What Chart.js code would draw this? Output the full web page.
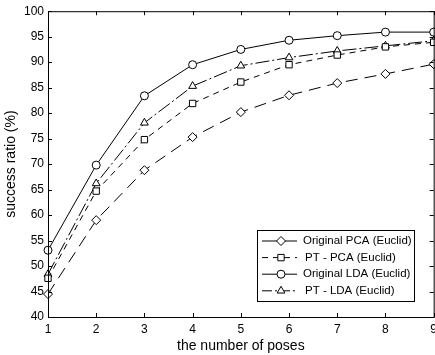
<!DOCTYPE html>
<html>
<head>
<meta charset="utf-8">
<script src="https://cdn.jsdelivr.net/npm/chart.js@4/dist/chart.umd.min.js"></script>
<style>
  html, body { margin: 0; padding: 0; background: #fff; overflow: hidden; }
  #wrap { width: 442px; height: 355px; }
</style>
</head>
<body>
<div id="wrap"><canvas id="myChart" width="442" height="355"></canvas></div>
<script>
const poses = [1, 2, 3, 4, 5, 6, 7, 8, 9];
const origPCA = [44.5, 59.0, 68.8, 75.3, 80.2, 83.5, 85.9, 87.7, 89.6];
const ptPCA = [47.6, 64.7, 74.8, 81.9, 86.1, 89.5, 91.4, 93.0, 93.9];
const origLDA = [53.1, 69.8, 83.4, 89.5, 92.5, 94.3, 95.2, 95.9, 95.9];
const ptLDA = [48.4, 66.2, 78.1, 85.3, 89.3, 90.9, 92.2, 93.2, 94.2];
const yTicks = [40, 45, 50, 55, 60, 65, 70, 75, 80, 85, 90, 95, 100];

const font = 'Liberation Sans, Arial, sans-serif';

function series(label, values, marker, dash) {
  return {
    label: label,
    data: poses.map((p, i) => ({ x: p, y: values[i] })),
    borderColor: '#000',
    borderWidth: 1,
    borderDash: dash,
    backgroundColor: '#fff',
    pointStyle: marker,
    pointRadius: marker === 'circle' ? 4 : 4.5,
    pointBorderColor: '#000',
    pointBackgroundColor: '#fff',
    pointBorderWidth: 1,
    tension: 0,
    clip: false
  };
}

let data = {
  datasets: [
    series('Original PCA (Euclid)', origPCA, 'rectRot', [12, 7]),
    series('PT - PCA (Euclid)', ptPCA, 'rect', [6, 5]),
    series('Original LDA (Euclid)', origLDA, 'circle', []),
    series('PT - LDA (Euclid)', ptLDA, 'triangle', [14, 3, 2, 3])
  ]
};

// frame, inward ticks and the boxed legend
const framePlugin = {
  id: 'frame',
  afterDraw(chart) {
    const ctx = chart.ctx;
    const a = chart.chartArea;
    const xs = chart.scales.x, ys = chart.scales.y;
    ctx.save();
    ctx.strokeStyle = '#000';
    ctx.lineWidth = 1;
    ctx.setLineDash([]);
    ctx.strokeRect(a.left + 0.5, a.top + 0.5, a.right - a.left, a.bottom - a.top);
    ctx.beginPath();
    poses.forEach(p => {
      const px = Math.round(xs.getPixelForValue(p)) + 0.5;
      ctx.moveTo(px, a.bottom); ctx.lineTo(px, a.bottom - 4);
      ctx.moveTo(px, a.top); ctx.lineTo(px, a.top + 4);
    });
    yTicks.forEach(v => {
      const py = Math.round(ys.getPixelForValue(v)) + 0.5;
      ctx.moveTo(a.left, py); ctx.lineTo(a.left + 4, py);
      ctx.moveTo(a.right, py); ctx.lineTo(a.right - 4, py);
    });
    ctx.stroke();

    // legend box
    const bx = 257.5, by = 230.5, bw = 157, bh = 71;
    ctx.fillStyle = '#fff';
    ctx.fillRect(bx, by, bw, bh);
    ctx.strokeRect(bx, by, bw, bh);
    ctx.font = '11.5px ' + font;
    ctx.textBaseline = 'middle';
    chart.data.datasets.forEach((ds, i) => {
      const y = 241 + i * 16.6;
      ctx.beginPath();
      ctx.setLineDash(i === 1 ? [6, 5] : i === 3 ? [10, 3, 2, 3] : []);
      ctx.moveTo(262, y); ctx.lineTo(297, y);
      ctx.stroke();
      ctx.setLineDash([]);
      Chart.helpers.drawPoint(ctx, {
        pointStyle: ds.pointStyle, radius: ds.pointRadius, rotation: 0, borderWidth: 1
      }, 281, y);
      ctx.fillStyle = '#000';
      ctx.textAlign = 'left';
      ctx.fillText(ds.label, i === 0 || i === 2 ? 303 : 305, y);
      ctx.fillStyle = '#fff';
    });
    ctx.restore();
  }
};

let config = {
  type: 'line',
  data: data,
  options: {
    responsive: false,
    animation: false,
    layout: { padding: { top: 5, right: 0, left: 3, bottom: 0 } },
    plugins: { legend: { display: false }, tooltip: { enabled: false } },
    scales: {
      x: {
        type: 'linear', min: 1, max: 9,
        grid: { display: false, drawTicks: false },
        border: { display: false },
        ticks: { stepSize: 1, color: '#000', padding: 5, font: { family: font, size: 12 } },
        title: { display: true, text: 'the number of poses', color: '#000', padding: { top: 5, bottom: 0 }, font: { family: font, size: 14 } },
        afterFit(s) { s.height = 38; }
      },
      y: {
        min: 40, max: 100,
        grid: { display: false, drawTicks: false },
        border: { display: false },
        ticks: { stepSize: 5, color: '#000', padding: 4, font: { family: font, size: 12 } },
        title: { display: true, text: 'success ratio (%)', color: '#000', padding: 0, font: { family: font, size: 14 } },
        afterFit(s) { s.width = 45; }
      }
    }
  },
  plugins: [framePlugin]
};

let myChart = new Chart(document.getElementById('myChart'), config);
</script>
</body>
</html>
